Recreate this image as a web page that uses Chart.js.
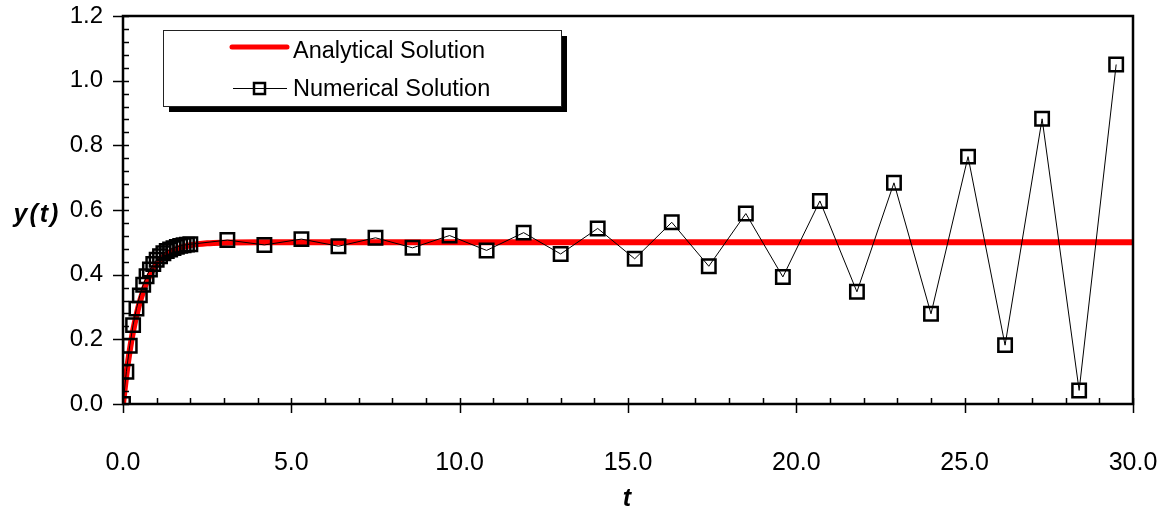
<!DOCTYPE html>
<html>
<head>
<meta charset="utf-8">
<script src="https://cdn.jsdelivr.net/npm/chart.js@4/dist/chart.umd.min.js"></script>
<style>
  html, body { margin: 0; padding: 0; background: #fff; }
  #wrap { width: 1164px; height: 510px; }
</style>
</head>
<body>
<div id="wrap"><canvas id="chart" width="1164" height="510"></canvas></div>
<script>
/* Numerical solution (square markers) */
var numT = [0.0, 0.1, 0.2, 0.3, 0.4, 0.5, 0.6, 0.7, 0.8, 0.9, 1.0,
            1.1, 1.2, 1.3, 1.4, 1.5, 1.6, 1.7, 1.8, 1.9, 2.0,
            3.1, 4.2, 5.3, 6.4, 7.5, 8.6, 9.7, 10.8, 11.9, 13.0,
            14.1, 15.2, 16.3, 17.4, 18.5, 19.6, 20.7, 21.8, 22.9, 24.0,
            25.1, 26.2, 27.3, 28.4, 29.5];
var numY = [0.000, 0.100, 0.180, 0.244, 0.295, 0.336, 0.369, 0.395, 0.416, 0.433, 0.446,
            0.457, 0.466, 0.473, 0.478, 0.482, 0.486, 0.489, 0.491, 0.493, 0.494,
            0.507, 0.492, 0.510, 0.488, 0.514, 0.483, 0.521, 0.475, 0.530, 0.464,
            0.543, 0.449, 0.562, 0.426, 0.589, 0.393, 0.628, 0.347, 0.684, 0.279,
            0.765, 0.182, 0.882, 0.042, 1.050];

/* Analytical solution (thick red curve) */
var anaT = [0.0, 0.1, 0.2, 0.3, 0.4, 0.5, 0.6, 0.7, 0.8, 0.9, 1.0,
            1.2, 1.4, 1.6, 1.8, 2.0, 2.5, 3.0, 4.0, 5.0, 10.0, 20.0, 30.0];
var anaY = [0.000, 0.091, 0.165, 0.226, 0.275, 0.316, 0.349, 0.377, 0.399, 0.417, 0.432,
            0.455, 0.470, 0.480, 0.486, 0.491, 0.497, 0.499, 0.500, 0.500, 0.500, 0.500, 0.500];

var seriesLabels = ['Analytical Solution', 'Numerical Solution'];
var xTitle = 't';
var yTitle = 'y(t)';

var FONT = "'Liberation Sans', Arial, sans-serif";

function pts(xs, ys) {
  return xs.map(function (x, i) { return { x: x, y: ys[i] }; });
}

function noPad(s) {
  s.paddingLeft = 0; s.paddingRight = 0; s.paddingTop = 0; s.paddingBottom = 0;
}

/* frame, tick marks, axis titles and the boxed legend */
var decor = {
  id: 'decor',
  afterDatasetsDraw: function (chart) {
    var ctx = chart.ctx, a = chart.chartArea;
    var xs = chart.scales.x, ys = chart.scales.y;
    ctx.save();
    ctx.strokeStyle = '#000';

    // minor + major ticks
    ctx.lineWidth = 1.5;
    ctx.beginPath();
    for (var t = 0; t <= 30; t += 1) {
      var px = Math.round(xs.getPixelForValue(t)) + 0.5;
      if (t % 5 === 0) { ctx.moveTo(px, a.bottom - 6); ctx.lineTo(px, a.bottom + 9); }
      else { ctx.moveTo(px, a.bottom - 6); ctx.lineTo(px, a.bottom); }
    }
    for (var k = 0; k <= 30; k++) {
      var v = k * 0.04;
      var py = Math.round(ys.getPixelForValue(v)) + 0.5;
      if (k % 5 === 0) { ctx.moveTo(a.left - 10, py); ctx.lineTo(a.left + 6, py); }
      else { ctx.moveTo(a.left, py); ctx.lineTo(a.left + 6, py); }
    }
    ctx.stroke();

    // plot frame
    ctx.lineWidth = 2.5;
    ctx.strokeRect(a.left, a.top, a.right - a.left, a.bottom - a.top);

    // axis titles
    ctx.fillStyle = '#000';
    ctx.font = 'italic bold 25px ' + FONT;
    ctx.textAlign = 'center';
    ctx.textBaseline = 'middle';
    ctx.fillText(xTitle, 627, 499);
    ctx.letterSpacing = '2px';
    ctx.fillText(yTitle, 37, 215);
    ctx.letterSpacing = '0px';

    // legend box with shadow
    var lx = 163, ly = 30, lw = 398, lh = 76;
    ctx.fillStyle = '#000';
    ctx.fillRect(lx + 6, ly + 6, lw, lh);
    ctx.fillStyle = '#fff';
    ctx.fillRect(lx, ly, lw, lh);
    ctx.lineWidth = 1;
    ctx.strokeStyle = '#222';
    ctx.strokeRect(lx + 0.5, ly + 0.5, lw, lh);

    ctx.lineCap = 'round';
    ctx.strokeStyle = '#ff0000';
    ctx.lineWidth = 5;
    ctx.beginPath(); ctx.moveTo(232, 47); ctx.lineTo(287, 47); ctx.stroke();
    ctx.lineCap = 'butt';
    ctx.strokeStyle = '#000';
    ctx.lineWidth = 1;
    ctx.beginPath(); ctx.moveTo(233, 88.5); ctx.lineTo(287, 88.5); ctx.stroke();
    ctx.lineWidth = 2.5;
    ctx.strokeRect(254, 83, 11, 11);

    ctx.fillStyle = '#000';
    ctx.font = '23.5px ' + FONT;
    ctx.textAlign = 'left';
    ctx.textBaseline = 'middle';
    ctx.fillText(seriesLabels[0], 293, 52);
    ctx.fillText(seriesLabels[1], 293, 90);
    ctx.restore();
  }
};

new Chart(document.getElementById('chart'), {
  type: 'scatter',
  data: {
    datasets: [
      {
        label: seriesLabels[0],
        data: pts(anaT, anaY),
        showLine: true,
        borderColor: '#ff0000',
        borderWidth: 6,
        pointRadius: 0,
        cubicInterpolationMode: 'monotone',
        order: 2
      },
      {
        label: seriesLabels[1],
        data: pts(numT, numY),
        showLine: true,
        borderColor: '#000',
        borderWidth: 1,
        pointStyle: 'rect',
        pointRadius: 9.5,
        pointBorderWidth: 2.5,
        pointBorderColor: '#000',
        pointBackgroundColor: 'rgba(0,0,0,0)',
        order: 1
      }
    ]
  },
  options: {
    responsive: false,
    animation: false,
    layout: { padding: { left: 0, right: 31, top: 16, bottom: 0 } },
    plugins: { legend: { display: false }, tooltip: { enabled: false } },
    scales: {
      x: {
        type: 'linear', min: 0, max: 30,
        border: { display: false },
        grid: { display: false, drawTicks: false },
        ticks: {
          stepSize: 5, padding: 44, color: '#000',
          font: { family: FONT, size: 25 },
          callback: function (v) { return v.toFixed(1); }
        },
        afterFit: function (s) { s.height = 106; noPad(s); }
      },
      y: {
        type: 'linear', min: 0, max: 1.2,
        border: { display: false },
        grid: { display: false, drawTicks: false },
        ticks: {
          stepSize: 0.2, padding: 20, color: '#000',
          font: { family: FONT, size: 24 },
          callback: function (v) { return v.toFixed(1); }
        },
        afterFit: function (s) { s.width = 123; noPad(s); }
      }
    }
  },
  plugins: [decor]
});
</script>
</body>
</html>
